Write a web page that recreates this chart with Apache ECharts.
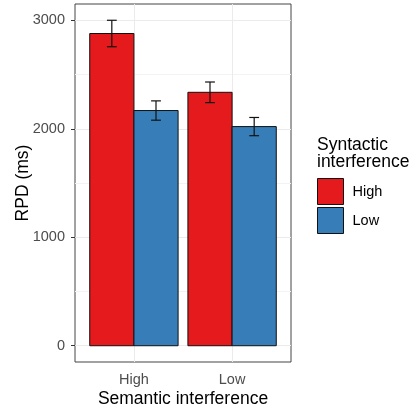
<!DOCTYPE html>
<html>
<head>
<meta charset="utf-8">
<script src="https://cdn.jsdelivr.net/npm/echarts@6/dist/echarts.min.js"></script>
<style>
  html, body { margin: 0; padding: 0; background: #fff; }
  #chart { width: 409px; height: 410px; }
</style>
</head>
<body>
<div id="chart"></div>
<script>
// Reading times (RPD, ms) by semantic interference (x) and syntactic interference (fill)
const semanticLevels = ['High', 'Low'];
const syntacticLevels = ['High', 'Low'];
const rpdSynHigh = [2878, 2336];
const seSynHigh = [122, 95];
const rpdSynLow = [2168, 2020];
const seSynLow = [89, 84];
const yTickValues = [0, 1000, 2000, 3000];
const yMinorValues = [500, 1500, 2500];

const FONT = 'Liberation Sans, Arial, Helvetica, sans-serif';
const fillColors = ['#E41A1C', '#377EB8'];
const barHalf = 0.225;
const capHalf = 0.05;

function makeRender(offset) {
  return function (params, api) {
    const x = api.value(0) + offset;
    const m = api.value(1);
    const se = api.value(2);
    const p0 = api.coord([x - barHalf, 0]);
    const p1 = api.coord([x + barHalf, m]);
    const top = api.coord([x, m + se]);
    const bot = api.coord([x, m - se]);
    const cl = api.coord([x - capHalf, m]);
    const cr = api.coord([x + capHalf, m]);
    const errStyle = { stroke: '#111', lineWidth: 1.2 };
    return {
      type: 'group',
      children: [
        {
          type: 'rect',
          shape: { x: p0[0], y: p1[1], width: p1[0] - p0[0], height: p0[1] - p1[1] },
          style: { fill: api.visual('color'), stroke: '#111', lineWidth: 1 }
        },
        { type: 'line', shape: { x1: top[0], y1: top[1], x2: bot[0], y2: bot[1] }, style: errStyle },
        { type: 'line', shape: { x1: cl[0], y1: top[1], x2: cr[0], y2: top[1] }, style: errStyle },
        { type: 'line', shape: { x1: cl[0], y1: bot[1], x2: cr[0], y2: bot[1] }, style: errStyle }
      ]
    };
  };
}

const seriesData = [
  semanticLevels.map((_, i) => [i + 1, rpdSynHigh[i], seSynHigh[i]]),
  semanticLevels.map((_, i) => [i + 1, rpdSynLow[i], seSynLow[i]])
];

const chart = echarts.init(document.getElementById('chart'), null, { renderer: 'canvas' });
chart.setOption({
  animation: false,
  backgroundColor: '#fff',
  textStyle: { fontFamily: FONT },
  title: {
    text: 'Syntactic\ninterference',
    left: 317,
    top: 137,
    padding: 0,
    textStyle: { fontFamily: FONT, fontSize: 17.5, fontWeight: 'normal', color: '#000', lineHeight: 17 }
  },
  legend: {
    orient: 'vertical',
    left: 317,
    top: 178,
    padding: 0,
    itemWidth: 26,
    itemHeight: 26,
    itemGap: 2,
    icon: 'rect',
    itemStyle: { borderColor: '#111', borderWidth: 1 },
    textStyle: { fontFamily: FONT, fontSize: 14.5, color: '#000', padding: [0, 0, 0, 4] },
    data: syntacticLevels
  },
  grid: {
    left: 75, top: 4, width: 216, height: 358,
    show: true, borderColor: '#444', borderWidth: 1, backgroundColor: '#fff',
    containLabel: false,
    outerBoundsMode: 'none'
  },
  xAxis: {
    type: 'value',
    min: 0.4,
    max: 2.6,
    name: 'Semantic interference',
    nameLocation: 'middle',
    nameGap: 28,
    nameMoveOverlap: false,
    nameTextStyle: { fontFamily: FONT, fontSize: 17.5, color: '#000' },
    axisLine: { show: false },
    splitLine: { show: false },
    axisTick: { show: true, customValues: [1, 2], length: 4, lineStyle: { color: '#333' } },
    axisLabel: {
      customValues: [1, 2],
      margin: 10,
      fontFamily: FONT, fontSize: 14.5, color: '#4D4D4D',
      formatter: v => semanticLevels[Math.round(v) - 1]
    }
  },
  yAxis: {
    type: 'value',
    min: -150,
    max: 3150,
    name: 'RPD (ms)',
    nameLocation: 'middle',
    nameGap: 43,
    nameMoveOverlap: false,
    nameTextStyle: { fontFamily: FONT, fontSize: 17.5, color: '#000' },
    axisLine: { show: false },
    splitLine: { show: false },
    axisTick: { show: true, customValues: yTickValues, length: 4, lineStyle: { color: '#333' } },
    axisLabel: {
      customValues: yTickValues,
      margin: 10,
      fontFamily: FONT, fontSize: 14.5, color: '#4D4D4D',
      formatter: v => String(v)
    }
  },
  series: [
    {
      // panel grid lines, kept beneath the bars
      type: 'line',
      data: [],
      z: 1,
      silent: true,
      markLine: {
        z: 1,
        silent: true,
        symbol: 'none',
        animation: false,
        label: { show: false },
        data: [
          ...yTickValues.map(v => ({ yAxis: v, lineStyle: { color: '#EBEBEB', width: 1, type: 'solid' } })),
          ...yMinorValues.map(v => ({ yAxis: v, lineStyle: { color: '#F3F3F3', width: 1, type: 'solid' } })),
          ...[1, 2].map(v => ({ xAxis: v, lineStyle: { color: '#EBEBEB', width: 1, type: 'solid' } }))
        ]
      }
    },
    {
      name: syntacticLevels[0],
      type: 'custom',
      z: 3,
      itemStyle: { color: fillColors[0] },
      encode: { x: 0, y: 1 },
      renderItem: makeRender(-barHalf),
      data: seriesData[0]
    },
    {
      name: syntacticLevels[1],
      type: 'custom',
      z: 3,
      itemStyle: { color: fillColors[1] },
      encode: { x: 0, y: 1 },
      renderItem: makeRender(barHalf),
      data: seriesData[1]
    }
  ]
});
</script>
</body>
</html>
